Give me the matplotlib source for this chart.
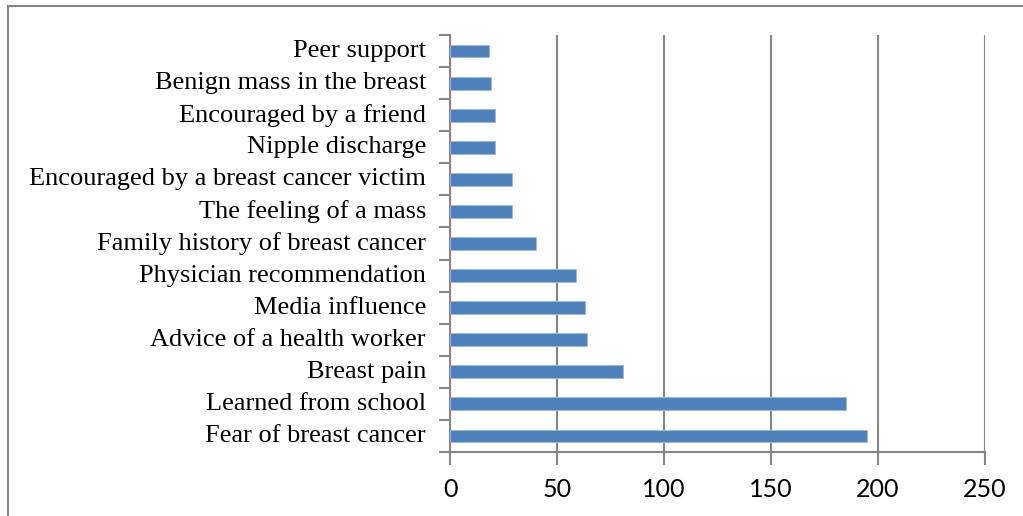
import matplotlib
matplotlib.use("Agg")
import matplotlib.pyplot as plt
from matplotlib.patches import Rectangle
import numpy as np

categories = [
    "Fear of breast cancer",
    "Learned from school",
    "Breast pain",
    "Advice of a health worker",
    "Media influence",
    "Physician recommendation",
    "Family history of breast cancer",
    "The feeling of a mass",
    "Encouraged by a breast cancer victim",
    "Nipple discharge",
    "Encouraged by a friend",
    "Benign mass in the breast",
    "Peer support",
]
counts = [195, 185, 81, 64, 63, 59, 40, 29, 29, 21, 21, 19, 18]
x_ticks = [0, 50, 100, 150, 200, 250]

grid_col = "#868686"
bar_col = "#4F81BD"

fig = plt.figure(figsize=(10.23, 5.16), dpi=100)
ax = fig.add_axes([450 / 1023, (516 - 452) / 516, (985 - 450) / 1023, (452 - 35) / 516])

y = np.arange(len(categories))
ax.barh(y, counts, height=0.4, color=bar_col, edgecolor="#9DB9DC", linewidth=0.6, zorder=3)

ax.set_xlim(0, 250)
ax.set_ylim(-0.5, len(categories) - 0.5)
ax.set_xticks(x_ticks)
ax.set_xticklabels([str(t) for t in x_ticks], fontfamily="Lato", fontsize=18)
ax.xaxis.grid(True, color=grid_col, linewidth=1.5, zorder=0)

# category labels placed at bar centres, ticks at category boundaries
ax.set_yticks(np.arange(-0.5, len(categories), 1.0))
ax.set_yticklabels([])
ax.tick_params(axis="y", direction="out", length=8, width=1.5, color=grid_col)
ax.tick_params(axis="x", direction="out", length=9, width=1.5, color=grid_col, pad=10)
for yi, lab in zip(y, categories):
    ax.text(-0.045, yi, lab, transform=ax.get_yaxis_transform(), ha="right", va="center",
            fontfamily="Liberation Serif", fontsize=19)

for side in ["top", "right"]:
    ax.spines[side].set_visible(False)
for side in ["left", "bottom"]:
    ax.spines[side].set_color(grid_col)
    ax.spines[side].set_linewidth(1.5)

# outer chart frame
fig.patches.append(Rectangle((8 / 1023, -0.05), 1.2, 1.05 - 6 / 516, transform=fig.transFigure,
                             fill=False, edgecolor=grid_col, linewidth=1.5))

fig.savefig("out.png", dpi=100)
